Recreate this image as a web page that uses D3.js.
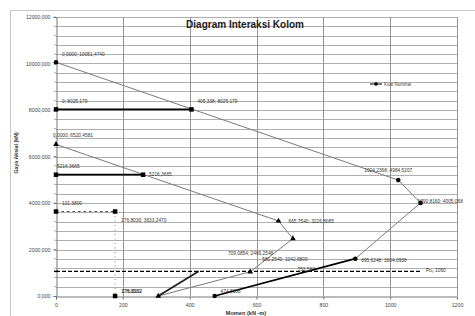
<!DOCTYPE html>
<html><head><meta charset="utf-8">
<script src="https://cdn.jsdelivr.net/npm/d3@7"></script>
<style>body{margin:0;background:#fff}svg{display:block;font-family:"Liberation Sans",Arial,sans-serif}</style>
</head><body>
<svg id="c" width="475" height="316"></svg>
<script>
// ---- data ----
const xTicks = [0,200,400,600,800,1000,1200];
const yTicks = [0,2000,4000,6000,8000,10000,12000];
const yTickLabels = ["0,000","2000,000","4000,000","6000,000","8000,000","10000,000","12000,000"];
// Kuat nominal (circle markers, thin gray line)
const nominalM = [0, 1024.2368, 1090.8160, 895.6248];
const nominalP = [10051.4740, 4984.5207, 4005.0680, 1604.0938];
// thick segment to the balance point
const thickAM = [895.6248, 474.6688];
const thickAP = [1604.0938, 0];
// reduced curve (triangle markers)
const reducedM = [0, 665.7540, 709.0854, 581.2540, 306.0];
const reducedP = [6520.4581, 3226.8085, 2469.2548, 1042.6809, 0];
// thick line from reduced bottom point
const thickBM = [306.0, 427.0];
const thickBP = [0, 1060];
// horizontal limits
const line8025M = [0, 405.338];
const line8025P = [8025.179, 8025.179];
const line5216M = [0, 260.6];
const line5216P = [5216.3665, 5216.3665];
// dashed box
const boxM = [0, 176.8030, 176.8030];
const boxP = [3633.2470, 3633.2470, 0];
// Pu line
const puM = [0, 1095];
const puP = [1060, 1060];
// point labels
const labelText = ["0,0000; 10051,4740","0; 8025,179","405,338; 8025,179","0,0000; 6520,4581","5216,3665","5216,3665",
  "121,3800","176,8030; 3633,2470","176,8030","176,2912","1024,2368; 4984,5207","1090,8160; 4005,068",
  "665,7540; 3226,8085","709,0854; 2469,2548","581,2540; 1042,6809","895,6248; 1604,0938","752,583","474,6688","Pu\u2080 1060"];
const labelM = [0,0,405.338,0,0,260.6,0,176.803,176.803,176.803,1024.2368,1090.816,665.754,709.0854,581.254,895.6248,752.583,474.6688,1095];
const labelP = [10051.474,8025.179,8025.179,6520.4581,5216.3665,5216.3665,3633.247,3633.247,0,0,4984.5207,4005.068,3226.8085,2469.2548,1042.6809,1604.0938,1060,0,1060];
const labelDx = [6,6,6,-3,1,6,6,6,6,7,-34,-3,10,-65,12,6,-10,6,4];
const labelDy = [-6,-6,-6,-7,-7,1,-7,10,-3,-3,-8,0,2,16,-10.5,3,0,-3,1];
const legendText = "Kuat Nominal";

// ---- chart ----
const svg = d3.select("#c");
const x = d3.scaleLinear().domain([0,1200]).range([56,457]);
const y = d3.scaleLinear().domain([0,12000]).range([296,17]);

// outer frame
svg.append("rect").attr("x",10.5).attr("y",10.5).attr("width",480).attr("height",320)
  .attr("fill","#fff").attr("stroke","#c8c8c8");

// horizontal grid (every 400)
const hMinor = d3.range(400,12001,400);
svg.append("g").selectAll("line").data(hMinor).join("line")
  .attr("x1",x(0)).attr("x2",x(1200)).attr("y1",d=>Math.round(y(d))+0.5).attr("y2",d=>Math.round(y(d))+0.5)
  .attr("stroke","#9a9a9a").attr("stroke-width",0.8);
// vertical grid
svg.append("g").selectAll("line").data(xTicks.slice(1)).join("line")
  .attr("x1",d=>Math.round(x(d))+0.5).attr("x2",d=>Math.round(x(d))+0.5).attr("y1",y(12000)).attr("y2",y(0))
  .attr("stroke","#8a8a8a").attr("stroke-width",0.9);

// axes
const yAxis = d3.axisLeft(y).tickValues(yTicks).tickFormat((d,i)=>yTickLabels[i]).tickSize(3).tickPadding(3);
const gy = svg.append("g").attr("transform",`translate(${Math.round(x(0))+0.5},0)`).call(yAxis);
gy.selectAll("text").attr("font-size",5.2).attr("fill","#444");
gy.selectAll("line,path").attr("stroke","#777");
// minor ticks on y
svg.append("g").selectAll("line").data(hMinor).join("line")
  .attr("x1",x(0)-2).attr("x2",x(0)).attr("y1",d=>y(d)).attr("y2",d=>y(d)).attr("stroke","#777").attr("stroke-width",0.6);
const xAxis = d3.axisBottom(x).tickValues(xTicks).tickSize(3).tickPadding(4).tickFormat(d3.format("d"));
const gx = svg.append("g").attr("transform",`translate(0,${Math.round(y(0))+0.5})`).call(xAxis);
gx.selectAll("text").attr("font-size",5.2).attr("fill","#444");
gx.selectAll("line,path").attr("stroke","#777");

// title & axis titles
svg.append("text").attr("x",245).attr("y",28).attr("text-anchor","middle")
  .attr("font-size",10).attr("font-weight","bold").attr("fill","#222").text("Diagram Interaksi Kolom");
svg.append("text").attr("transform","translate(18,153) rotate(-90)").attr("text-anchor","middle")
  .attr("font-size",5.3).attr("font-weight","bold").attr("fill","#333").text("Gaya Aksial (kN)");
svg.append("text").attr("x",246).attr("y",315).attr("text-anchor","middle")
  .attr("font-size",5.6).attr("font-weight","bold").attr("fill","#333").text("Momen (kN -m)");

const line = d3.line().x(d=>x(d[0])).y(d=>y(d[1]));
const zip = (a,b)=>a.map((v,i)=>[v,b[i]]);

function path(M,P,stroke,w,dash){
  svg.append("path").attr("d",line(zip(M,P))).attr("fill","none").attr("stroke",stroke)
    .attr("stroke-width",w).attr("stroke-dasharray",dash||null);
}
path(nominalM,nominalP,"#7a7a7a",1);
path(reducedM,reducedP,"#7a7a7a",1);
path(thickAM,thickAP,"#000",1.8);
path(thickBM,thickBP,"#222",1.8);
path(line8025M,line8025P,"#000",1.8);
path(line5216M,line5216P,"#000",1.8);
path(boxM.slice(0,2),boxP.slice(0,2),"#333",0.9,"2.5,3");
path(boxM.slice(1),boxP.slice(1),"#777",0.9,"1,3.5");
path(puM,puP,"#000",1.4,"4,2");

// markers
function circles(M,P,r){
  svg.append("g").selectAll("circle").data(zip(M,P)).join("circle")
    .attr("cx",d=>x(d[0])).attr("cy",d=>y(d[1])).attr("r",r).attr("fill","#000");
}
function squares(M,P,s){
  svg.append("g").selectAll("rect").data(zip(M,P)).join("rect")
    .attr("x",d=>x(d[0])-s/2).attr("y",d=>y(d[1])-s/2).attr("width",s).attr("height",s).attr("fill","#000");
}
function triangles(M,P,s){
  svg.append("g").selectAll("path").data(zip(M,P)).join("path")
    .attr("transform",d=>`translate(${x(d[0])},${y(d[1])})`)
    .attr("d",d3.symbol(d3.symbolTriangle,s)).attr("fill","#000");
}
circles(nominalM,nominalP,2.3);
circles(thickAM.slice(1),thickAP.slice(1),2.2);
triangles(reducedM,reducedP,14);
squares(line8025M,line8025P,4.5);
squares(line5216M,line5216P,4.5);
squares(boxM,boxP,4.5);
svg.append("line").attr("x1",x(0)-2).attr("x2",x(0)+2).attr("y1",y(1060)).attr("y2",y(1060)).attr("stroke","#000").attr("stroke-width",1.5);

// labels
svg.append("g").selectAll("text").data(labelText).join("text")
  .attr("x",(d,i)=>x(labelM[i])+labelDx[i]).attr("y",(d,i)=>y(labelP[i])+labelDy[i])
  .attr("font-size",4.8).attr("fill","#333").text(d=>d);

// legend
svg.append("line").attr("x1",370).attr("x2",382).attr("y1",84).attr("y2",84).attr("stroke","#000").attr("stroke-width",1);
svg.append("circle").attr("cx",376).attr("cy",84).attr("r",1.8).attr("fill","#000");
svg.append("text").attr("x",384).attr("y",85.6).attr("font-size",4.5).attr("fill","#444").text(legendText);
</script>
</body></html>
